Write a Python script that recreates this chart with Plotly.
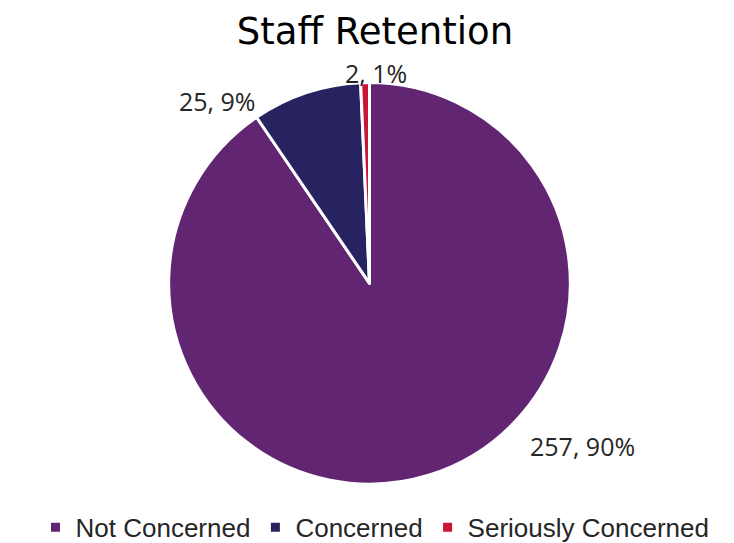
import plotly.graph_objects as go

# Survey responses
categories = ['Not Concerned', 'Concerned', 'Seriously Concerned']
counts = [257, 25, 2]
colors = ['#622572', '#272360', '#C8153A']

# where each data label sits (paper coordinates)
label_x = [0.783, 0.285, 0.501]
label_y = [0.177, 0.825, 0.877]

total = sum(counts)

fig = go.Figure()

fig.add_trace(go.Pie(
    labels=categories,
    values=counts,
    sort=False,
    direction='clockwise',
    rotation=0,
    marker=dict(colors=colors, line=dict(color='white', width=3)),
    textinfo='none',
    hoverinfo='label+value+percent',
    domain=dict(x=[0, 0.985], y=[0.105, 0.86]),
))

# data labels "value, percent"
for name, v, lx, ly in zip(categories, counts, label_x, label_y):
    fig.add_annotation(
        x=lx, y=ly, xref='paper', yref='paper',
        xanchor='center', yanchor='middle',
        text=f'{v}, {round(100 * v / total)}%',
        showarrow=False,
        font=dict(size=25, color='#262626', family='Open Sans'),
    )

fig.update_layout(
    width=734,
    height=543,
    title=dict(text='Staff Retention', x=0.5, xanchor='center', y=0.958, yanchor='middle',
               font=dict(size=37, color='black', family='DejaVu Sans')),
    legend=dict(orientation='h', x=0.5, xanchor='center', y=0.024, yanchor='middle',
                font=dict(size=26, color='#262626', family='Liberation Sans'),
                traceorder='normal', itemwidth=30),
    margin=dict(l=0, r=0, t=0, b=0),
    paper_bgcolor='white',
    showlegend=True,
)

fig.write_html("out.html")
